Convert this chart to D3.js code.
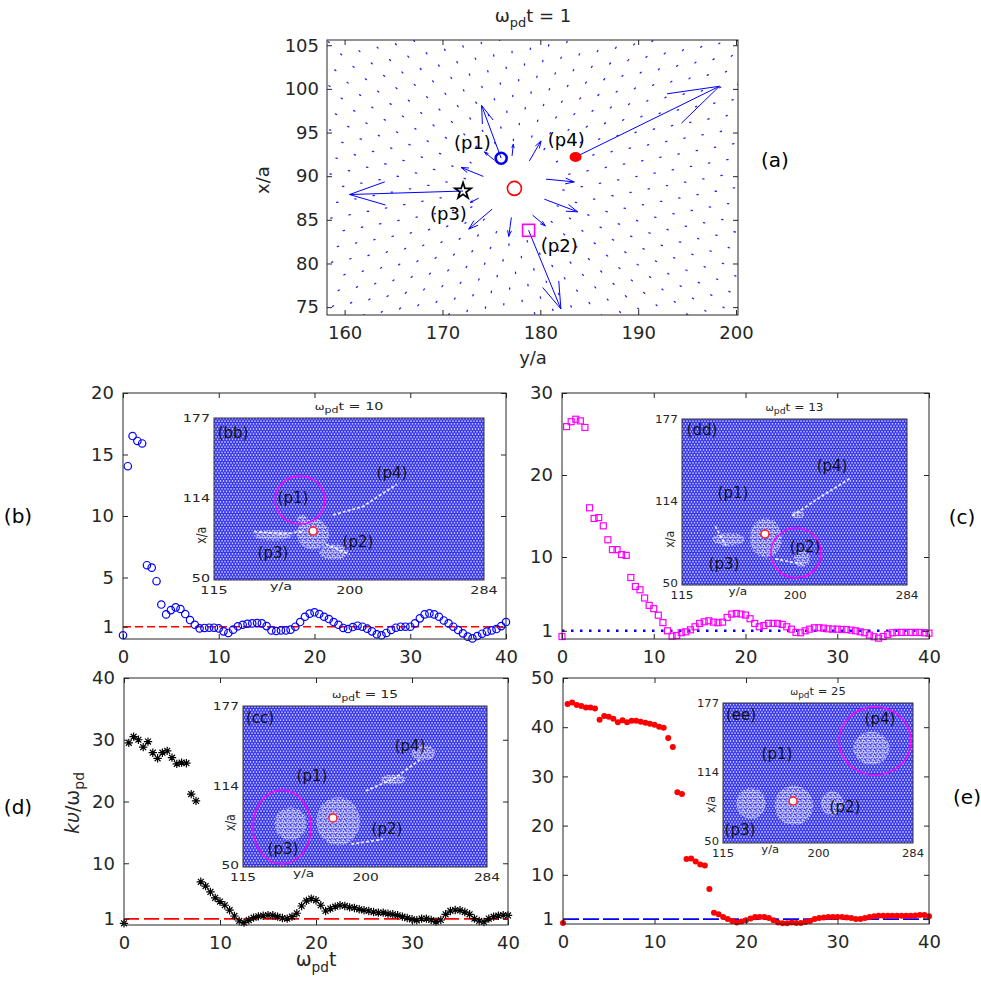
<!DOCTYPE html>
<html>
<head>
<meta charset="utf-8">
<script src="https://cdn.jsdelivr.net/npm/d3@7"></script>
<style>
  body { margin: 0; background: #fff; }
  svg { display: block; font-family: "DejaVu Sans", sans-serif; }
</style>
</head>
<body>
<svg width="981" height="981"></svg>
<script>
// ---------- data ----------
const tStep = 0.5;
const times = d3.range(0, 40 + tStep / 2, tStep);

const kvB = [0.3, 14.05, 16.5, 16.1, 15.9, 6.0, 5.8, 4.7, 2.8, 2.0,
  2.35, 2.57, 2.44, 2.03, 1.54, 1.16, 0.86, 0.9, 0.92, 0.92,
  0.86, 0.62, 0.49, 0.76, 1.03, 1.16, 1.24, 1.27, 1.3, 1.27,
  1.05, 0.7, 0.65, 0.7, 0.7, 0.76, 1.0, 1.38, 1.81, 2.06,
  2.17, 2.03, 1.81, 1.62, 1.38, 1.16, 0.9, 0.81, 0.97, 1.08,
  1.0, 0.84, 0.62, 0.38, 0.3, 0.49, 0.73, 0.92, 1.0, 1.0,
  1.0, 1.27, 1.68, 2.0, 2.08, 2.0, 1.81, 1.51, 1.27, 1.0,
  0.73, 0.46, 0.19, 0.05, 0.24, 0.43, 0.6, 0.7, 0.81, 1.05, 1.38];

const kvC = [0.3, 25.9, 26.5, 26.8, 26.6, 25.8, 16.0, 14.7, 14.8, 13.8,
  12.1, 10.9, 10.9, 10.3, 10.2, 7.5, 6.4, 6.0, 5.0, 4.1,
  3.7, 2.9, 2.0, 1.0, 0.35, 0.43, 0.76, 0.88, 1.12, 1.49,
  1.9, 2.1, 2.22, 2.06, 1.98, 2.06, 2.63, 3.04, 3.12, 3.04,
  2.92, 2.47, 1.9, 1.49, 1.65, 1.9, 1.9, 1.9, 1.78, 1.49,
  1.2, 0.8, 0.76, 1.0, 1.2, 1.37, 1.37, 1.33, 1.24, 1.2,
  1.2, 1.16, 1.16, 1.08, 1.0, 0.88, 0.76, 0.47, 0.27, 0.1,
  0.3, 0.55, 0.76, 0.8, 0.8, 0.8, 0.8, 0.8, 0.8, 0.76, 0.71];

const kvD = [0.27, 29.5, 30.5, 30.0, 28.8, 29.7, 27.9, 27.0, 27.9, 28.2,
  27.1, 26.1, 26.3, 26.2, 21.2, 20.1, 7.0, 6.3, 5.35, 4.4,
  3.8, 3.2, 2.4, 1.46, 0.65, 0.38, 0.8, 1.19, 1.4, 1.5,
  1.6, 1.57, 1.35, 1.13, 1.03, 1.35, 1.9, 3.08, 3.9, 4.27,
  4.0, 3.2, 2.27, 2.65, 2.97, 3.2, 3.08, 2.86, 2.76, 2.54,
  2.38, 2.27, 2.1, 2.0, 2.0, 1.84, 1.73, 1.57, 1.35, 1.13,
  0.92, 0.76, 1.03, 1.03, 0.81, 0.54, 0.81, 1.73, 2.27, 2.43,
  2.38, 2.1, 1.73, 1.03, 0.65, 0.49, 1.03, 1.35, 1.5, 1.6, 1.55];

const kvE = [0.2, 44.7, 45.0, 44.5, 44.3, 44.0, 44.0, 43.8, 41.5, 42.3,
  42.1, 41.7, 41.0, 41.4, 41.0, 41.3, 41.3, 41.1, 40.9, 40.7,
  40.5, 40.1, 39.9, 37.8, 36.0, 26.8, 26.4, 13.2, 13.3, 12.7,
  12.1, 11.9, 7.1, 2.3, 2.0, 1.4, 1.0, 0.6, 0.3, 0.5,
  0.75, 1.1, 1.4, 1.4, 1.4, 1.2, 0.75, 0.3, 0.15, 0.15,
  0.3, 0.2, 0.2, 0.4, 0.6, 1.0, 1.2, 1.3, 1.4, 1.4,
  1.4, 1.4, 1.3, 1.2, 1.0, 1.0, 1.2, 1.4, 1.6, 1.7,
  1.7, 1.7, 1.7, 1.7, 1.7, 1.7, 1.7, 1.75, 1.85, 1.85, 1.6];

const timeTicks = [0, 10, 20, 30, 40];
const yTicksB = [1, 5, 10, 15, 20];
const yTicksC = [1, 10, 20, 30];
const yTicksD = [1, 10, 20, 30, 40];
const yTicksE = [1, 10, 20, 30, 40, 50];

// panel (a): displacement field at omega_pd t = 1
const xTicksA = [160, 170, 180, 190, 200];
const yTicksA = [75, 80, 85, 90, 95, 100, 105];
const centreA = [177.35, 88.6];
// probe particle: [y/a, x/a, arrow tip y/a, arrow tip x/a]
const probeP1 = [176.0, 92.06, 174.0, 98.1];
const probeP2 = [178.8, 83.8, 182.1, 74.8];
const probeP3 = [172.1, 88.3, 160.5, 87.9];
const probeP4 = [183.6, 92.2, 198.3, 100.3];
// arrows of the particles next to the centre: [y0, x0, y1, x1]
const nearArrowsA = [
  [174.18, 89.97, 171.91, 91.0],
  [175.31, 91.83, 174.29, 92.78],
  [177.11, 92.32, 177.24, 93.66],
  [178.88, 91.75, 180.07, 94.04],
  [180.58, 89.66, 183.47, 89.35],
  [180.41, 87.37, 183.81, 85.92],
  [179.21, 85.54, 180.51, 84.31],
  [177.04, 85.27, 176.77, 83.10],
  [175.07, 86.22, 172.68, 83.94],
  [173.70, 87.48, 172.83, 86.99]
];
const probeLabelsA = [["(p1)", 173.06, 93.89], ["(p4)", 182.65, 94.23], ["(p3)", 170.61, 85.77], ["(p2)", 181.94, 82.1]];
const latticeOrigin = [159.7, 103.9];
const latticeSpacing = 1.9;
const latticeAngle = 11.7;

// insets: [y/a, x/a] coordinates of annotations
const insetTicksY = [115, 200, 284];
const insetTicksX = [50, 114, 177];
const insetB = { title: "10", tag: ["(bb)", 126.9, 166], red: [177, 88.4], ring: [168.8, 112.7, 15.6, 18.8],
  labels: [["(p1)", 164.4, 114.3], ["(p2)", 205.1, 79.8], ["(p3)", 151.9, 71.2], ["(p4)", 226.4, 133.9]],
  blobs: [[177, 86, 10, 12], [152, 85, 12, 4], [190, 72, 9, 6], [170, 98, 3, 3]],
  streaks: [[[189.5, 101], [208, 107.5], [229.4, 125]], [[140, 88], [158, 86], [170, 88]], [[185, 78], [200, 70]]] };
const insetC = { title: "13", tag: ["(dd)", 130.0, 168.6], red: [177.3, 89.0], ring: [200.6, 74.5, 18.8, 19.1],
  labels: [["(p1)", 153.3, 120.4], ["(p2)", 207.4, 79.1], ["(p3)", 146.5, 66.8], ["(p4)", 227.7, 141.8]],
  blobs: [[178, 86, 12, 15], [150, 85, 12, 5], [205, 70, 6, 6], [202, 104, 5, 3]],
  streaks: [[[198, 103], [220, 118], [242, 132]], [[140, 95], [148, 80]], [[185, 70], [205, 66]]] };
const insetD = { title: "15", tag: ["(cc)", 126.8, 168.3], red: [177.3, 88.7], ring: [142.0, 81.6, 20.1, 29.2],
  labels: [["(p1)", 162.8, 121.8], ["(p2)", 214.7, 80.0], ["(p3)", 142.7, 64.2], ["(p4)", 230.7, 146.2]],
  blobs: [[181, 86, 15, 19], [148, 84, 11, 13], [240, 140, 8, 6], [219, 119, 9, 4]],
  streaks: [[[200, 110], [220, 120], [238, 135]], [[190, 68], [212, 72]]] };
const insetE = { title: "25", tag: ["(ee)", 131.0, 167.0], red: [177.3, 88.1], ring: [250.2, 142.5, 32.0, 30.8],
  labels: [["(p1)", 163.0, 131.6], ["(p2)", 223.5, 82.7], ["(p3)", 130.1, 61.8], ["(p4)", 254.6, 162.5]],
  blobs: [[178, 84, 17, 18], [140, 86, 13, 14], [247, 136, 16, 15], [212, 86, 10, 11]],
  streaks: [] };

// ---------- drawing ----------
const svg = d3.select('svg');
const ink = '#262626';
const defs = svg.append('defs');

const lat = defs.append('pattern').attr('id', 'lat')
  .attr('width', 3).attr('height', 5.2).attr('patternUnits', 'userSpaceOnUse');
lat.append('rect').attr('width', 3).attr('height', 5.2).attr('fill', '#3434f0');
[[0, 0], [3, 0], [1.5, 2.6], [0, 5.2], [3, 5.2]].forEach(p =>
  lat.append('circle').attr('cx', p[0]).attr('cy', p[1]).attr('r', 0.8).attr('fill', '#d8d8ff'));

const dis = defs.append('pattern').attr('id', 'dis')
  .attr('width', 5).attr('height', 5).attr('patternUnits', 'userSpaceOnUse');
dis.append('rect').attr('width', 5).attr('height', 5).attr('fill', '#ffffff');
[[1, 1], [3.5, 1.6], [2, 3.6], [4.4, 4.2], [0.4, 4.6]].forEach(p =>
  dis.append('circle').attr('cx', p[0]).attr('cy', p[1]).attr('r', 0.9).attr('fill', '#3a3af0'));

defs.append('filter').attr('id', 'soft').append('feGaussianBlur').attr('stdDeviation', 0.7);

function omegaText(sel, x, y, size, rest, anchor) {
  const t = sel.append('text').attr('x', x).attr('y', y)
    .attr('font-size', size).attr('fill', ink).attr('text-anchor', anchor || 'middle');
  t.append('tspan').text('ω');
  t.append('tspan').attr('font-size', size * 0.72).attr('dy', size * 0.3).text('pd');
  t.append('tspan').attr('dy', -size * 0.3).text(rest);
  return t;
}

// axes with inward ticks on all four sides
function frame(g, x, y, xt, yt, fs, padX, padY) {
  const [x0, x1] = x.range();
  const [y0, y1] = y.range();
  g.append('g').attr('transform', `translate(0,${y0})`)
    .call(d3.axisBottom(x).tickValues(xt).tickSize(-5).tickPadding(padX));
  g.append('g').attr('transform', `translate(0,${y1})`)
    .call(d3.axisTop(x).tickValues(xt).tickSize(-5).tickFormat(''));
  g.append('g').attr('transform', `translate(${x0},0)`)
    .call(d3.axisLeft(y).tickValues(yt).tickSize(-5).tickPadding(padY));
  g.append('g').attr('transform', `translate(${x1},0)`)
    .call(d3.axisRight(y).tickValues(yt).tickSize(-5).tickFormat(''));
  g.selectAll('.domain').remove();
  g.selectAll('.tick line').attr('stroke', ink);
  g.selectAll('.tick text').attr('font-size', fs).attr('fill', ink)
    .attr('font-family', '"DejaVu Sans", sans-serif');
  g.append('rect').attr('x', x0).attr('y', y1).attr('width', x1 - x0).attr('height', y0 - y1)
    .attr('fill', 'none').attr('stroke', ink).attr('stroke-width', 1);
}

function arrow(g, px0, py0, px1, py1, w) {
  const dx = px1 - px0, dy = py1 - py0;
  const L = Math.hypot(dx, dy);
  const a = Math.atan2(dy, dx);
  const h = 0.33 * L, s = 18 * Math.PI / 180;
  const path = d3.path();
  path.moveTo(px0, py0); path.lineTo(px1, py1);
  path.moveTo(px1 - h * Math.cos(a - s), py1 - h * Math.sin(a - s)); path.lineTo(px1, py1);
  path.lineTo(px1 - h * Math.cos(a + s), py1 - h * Math.sin(a + s));
  g.append('path').attr('d', path.toString()).attr('fill', 'none')
    .attr('stroke', '#0000ff').attr('stroke-width', w || 1);
}

// ----- panel (a) -----
{
  const xA = d3.scaleLinear().domain([158.2, 200.2]).range([327, 738]);
  const yA = d3.scaleLinear().domain([74.1, 105.6]).range([315, 40]);
  const g = svg.append('g');
  defs.append('clipPath').attr('id', 'clipA').append('rect')
    .attr('x', 327).attr('y', 40).attr('width', 411).attr('height', 275);
  const field = g.append('g').attr('clip-path', 'url(#clipA)');

  // resting lattice particles, each with a tiny outward displacement
  const th = latticeAngle * Math.PI / 180, th2 = th + Math.PI / 3;
  const sites = [];
  for (let i = -40; i <= 40; i++) {
    for (let j = -40; j <= 40; j++) {
      const px = latticeOrigin[0] + latticeSpacing * (i * Math.cos(th) + j * Math.cos(th2));
      const py = latticeOrigin[1] + latticeSpacing * (i * Math.sin(th) + j * Math.sin(th2));
      if (px < 158.2 || px > 200.2 || py < 74.1 || py > 105.6) continue;
      if (Math.hypot(px - centreA[0], py - centreA[1]) < 4.6) continue;
      sites.push([px, py]);
    }
  }
  field.selectAll('line.site').data(sites).join('line').attr('class', 'site')
    .each(function (d) {
      const sx = xA(d[0]), sy = yA(d[1]);
      const a = Math.atan2(sy - yA(centreA[1]), sx - xA(centreA[0]));
      d3.select(this).attr('x1', sx).attr('y1', sy)
        .attr('x2', sx + 1.3 * Math.cos(a)).attr('y2', sy + 1.3 * Math.sin(a));
    })
    .attr('stroke', '#2020ff').attr('stroke-width', 1.3).attr('stroke-linecap', 'round');

  nearArrowsA.forEach(d => arrow(field, xA(d[0]), yA(d[1]), xA(d[2]), yA(d[3]), 1));
  [probeP1, probeP2, probeP3, probeP4].forEach(d => arrow(field, xA(d[0]), yA(d[1]), xA(d[2]), yA(d[3]), 1));

  g.append('circle').attr('cx', xA(centreA[0])).attr('cy', yA(centreA[1])).attr('r', 7)
    .attr('fill', 'none').attr('stroke', '#ff0000').attr('stroke-width', 1.6);
  g.append('circle').attr('cx', xA(probeP1[0])).attr('cy', yA(probeP1[1])).attr('r', 5.5)
    .attr('fill', 'none').attr('stroke', '#0000ff').attr('stroke-width', 2.6);
  g.append('ellipse').attr('cx', xA(probeP4[0])).attr('cy', yA(probeP4[1])).attr('rx', 6).attr('ry', 5)
    .attr('fill', '#ff0000');
  g.append('path').attr('d', d3.symbol(d3.symbolStar).size(80)())
    .attr('transform', `translate(${xA(probeP3[0])},${yA(probeP3[1])})`)
    .attr('fill', 'none').attr('stroke', '#000').attr('stroke-width', 1.8);
  g.append('rect').attr('x', xA(probeP2[0]) - 6).attr('y', yA(probeP2[1]) - 6)
    .attr('width', 12).attr('height', 12)
    .attr('fill', 'none').attr('stroke', '#ff00ff').attr('stroke-width', 1.6);

  probeLabelsA.forEach(d => g.append('text').attr('x', xA(d[1])).attr('y', yA(d[2]) + 6.5)
    .attr('text-anchor', 'middle').attr('font-size', 18).attr('fill', '#000').text(d[0]));

  frame(g, xA, yA, xTicksA, yTicksA, 18, 11, 8);
  omegaText(g, 533, 22, 18, 't = 1');
  g.append('text').attr('transform', 'translate(269,180) rotate(-90)').attr('text-anchor', 'middle')
    .attr('font-size', 18).attr('fill', ink).text('x/a');
  g.append('text').attr('x', 533).attr('y', 364).attr('text-anchor', 'middle')
    .attr('font-size', 18).attr('fill', ink).text('y/a');
  g.append('text').attr('x', 775).attr('y', 167).attr('text-anchor', 'middle')
    .attr('font-size', 20).attr('fill', '#000').text('(a)');
}

// ----- inset images -----
function drawInset(g, box, inf, sx) {
  const [L, T, R, B] = box;
  const xi = d3.scaleLinear().domain([115, 284]).range([L, R]);
  const yi = d3.scaleLinear().domain([50, 177]).range([B, T]);
  const id = 'clip' + inf.title;
  defs.append('clipPath').attr('id', id).append('rect')
    .attr('x', L).attr('y', T).attr('width', R - L).attr('height', B - T);
  const img = g.append('g').attr('clip-path', `url(#${id})`);
  img.append('rect').attr('x', L).attr('y', T).attr('width', R - L).attr('height', B - T)
    .attr('fill', 'url(#lat)');
  const soft = img.append('g').attr('filter', 'url(#soft)').attr('opacity', 0.7);
  soft.selectAll('ellipse').data(inf.blobs).join('ellipse')
    .attr('cx', d => xi(d[0])).attr('cy', d => yi(d[1]))
    .attr('rx', d => xi(d[0] + d[2]) - xi(d[0])).attr('ry', d => yi(d[1]) - yi(d[1] + d[3]))
    .attr('fill', 'url(#dis)');
  inf.streaks.forEach(s => img.append('path')
    .attr('d', d3.line().x(d => xi(d[0])).y(d => yi(d[1]))(s))
    .attr('fill', 'none').attr('stroke', '#fff').attr('stroke-width', 1.8)
    .attr('stroke-dasharray', '3,2').attr('opacity', 0.85));
  img.append('ellipse').attr('cx', xi(inf.ring[0])).attr('cy', yi(inf.ring[1]))
    .attr('rx', xi(inf.ring[0] + inf.ring[2]) - xi(inf.ring[0]))
    .attr('ry', yi(inf.ring[1]) - yi(inf.ring[1] + inf.ring[3]))
    .attr('fill', 'none').attr('stroke', '#ff00ff').attr('stroke-width', 1.5);
  img.append('circle').attr('cx', xi(inf.red[0])).attr('cy', yi(inf.red[1])).attr('r', 4)
    .attr('fill', '#fff').attr('stroke', '#ff2020').attr('stroke-width', 1.5);
  [inf.tag].concat(inf.labels).forEach(d => img.append('text')
    .attr('x', xi(d[1])).attr('y', yi(d[2]) + 5.5).attr('text-anchor', 'middle')
    .attr('font-size', 15).attr('fill', '#111').text(d[0]));
  g.append('rect').attr('x', L).attr('y', T).attr('width', R - L).attr('height', B - T)
    .attr('fill', 'none').attr('stroke', '#333').attr('stroke-width', 1);

  const lbl = (x, y, txt, anchor) => g.append('text')
    .attr('transform', `translate(${x},${y}) scale(${sx},1)`)
    .attr('text-anchor', anchor).attr('font-size', 11).attr('fill', ink).text(txt);
  insetTicksY.forEach(v => lbl(xi(v), B + 14, v, 'middle'));
  insetTicksX.forEach(v => lbl(L - 4, yi(v) + (v === 50 ? 2 : 4), v, 'end'));
  lbl(xi(157), B + 10, 'y/a', 'middle');
  g.append('text').attr('transform', `translate(${L - 8},${yi(85)}) rotate(-90) scale(1,${sx})`)
    .attr('text-anchor', 'middle').attr('font-size', 11).attr('fill', ink).text('x/a');
  const tt = g.append('g').attr('transform', `translate(${(L + R) / 2},${T - 8}) scale(${sx},1)`);
  const t = tt.append('text').attr('text-anchor', 'middle').attr('font-size', 11).attr('fill', ink);
  t.append('tspan').attr('font-size', 9).text('ω');
  t.append('tspan').attr('font-size', 8.5).attr('dy', 3).text('pd');
  t.append('tspan').attr('dy', -3).text('t = ' + inf.title);
}

// ----- panels (b)-(e) -----
function asterisk(s) {
  const p = d3.path(), k = s * 0.7;
  p.moveTo(-s, 0); p.lineTo(s, 0); p.moveTo(0, -s); p.lineTo(0, s);
  p.moveTo(-k, -k); p.lineTo(k, k); p.moveTo(-k, k); p.lineTo(k, -k);
  return p.toString();
}

const panels = [
  { vals: kvB, yTicks: yTicksB, ymax: 20, box: [123, 393, 506, 639], kind: 'circle', refColor: '#ff0000', dash: '8,4', refW: 1.6,
    tag: ['(b)', 18, 523], inset: insetB, insetBox: [214, 418, 484, 580], sx: 1.3 },
  { vals: kvC, yTicks: yTicksC, ymax: 30, box: [562, 393, 929, 639], kind: 'square', refColor: '#0000ff', dash: '2.5,6.5', refW: 2.6,
    tag: ['(c)', 962, 524], inset: insetC, insetBox: [682, 419, 907, 585], sx: 1.1 },
  { vals: kvD, yTicks: yTicksD, ymax: 40, box: [124, 678, 508, 925], kind: 'star', refColor: '#ff0000', dash: '15,5', refW: 1.6,
    tag: ['(d)', 18, 814], inset: insetD, insetBox: [243, 706, 487, 867], sx: 1.25 },
  { vals: kvE, yTicks: yTicksE, ymax: 50, box: [563, 678, 929, 924], kind: 'dot', refColor: '#0000ff', dash: '16,4', refW: 1.6,
    tag: ['(e)', 967, 804], inset: insetE, insetBox: [723, 703, 913, 843], sx: 1.05 }
];

panels.forEach(p => {
  const [L, T, R, B] = p.box;
  const x = d3.scaleLinear().domain([0, 40]).range([L, R]);
  const y = d3.scaleLinear().domain([0, p.ymax]).range([B, T]);
  const g = svg.append('g');
  const pts = times.map((t, i) => [t, p.vals[i]]);

  g.append('line').attr('x1', x(0)).attr('x2', x(40)).attr('y1', y(1)).attr('y2', y(1))
    .attr('stroke', p.refColor).attr('stroke-width', p.refW).attr('stroke-dasharray', p.dash);

  const m = g.append('g');
  if (p.kind === 'circle') {
    m.selectAll('circle').data(pts).join('circle')
      .attr('cx', d => x(d[0])).attr('cy', d => y(d[1])).attr('r', 3.7)
      .attr('fill', 'none').attr('stroke', '#0000ff').attr('stroke-width', 1.2);
  } else if (p.kind === 'square') {
    m.selectAll('rect').data(pts).join('rect')
      .attr('x', d => x(d[0]) - 3).attr('y', d => y(d[1]) - 3).attr('width', 6).attr('height', 6)
      .attr('fill', 'none').attr('stroke', '#ff00ff').attr('stroke-width', 1.2);
  } else if (p.kind === 'star') {
    m.selectAll('path').data(pts).join('path')
      .attr('d', asterisk(4.2)).attr('transform', d => `translate(${x(d[0])},${y(d[1])})`)
      .attr('fill', 'none').attr('stroke', '#000').attr('stroke-width', 1.2);
  } else {
    m.selectAll('circle').data(pts).join('circle')
      .attr('cx', d => x(d[0])).attr('cy', d => y(d[1])).attr('r', 3)
      .attr('fill', '#ff0000');
  }

  frame(g, x, y, timeTicks, p.yTicks, 18, 11, 9);
  drawInset(g, p.insetBox, p.inset, p.sx);
  g.append('text').attr('x', p.tag[1]).attr('y', p.tag[2]).attr('text-anchor', 'middle')
    .attr('font-size', 20).attr('fill', '#000').text(p.tag[0]);
});

// shared labels of the lower row
omegaText(svg, 316, 966, 19, 't');
{
  const t = svg.append('text').attr('transform', 'translate(79,803) rotate(-90)')
    .attr('text-anchor', 'middle').attr('font-size', 19).attr('fill', ink);
  t.append('tspan').attr('font-style', 'italic').text('kυ');
  t.append('tspan').text('/ω');
  t.append('tspan').attr('font-size', 14).attr('dy', 5).text('pd');
}
</script>
</body>
</html>
